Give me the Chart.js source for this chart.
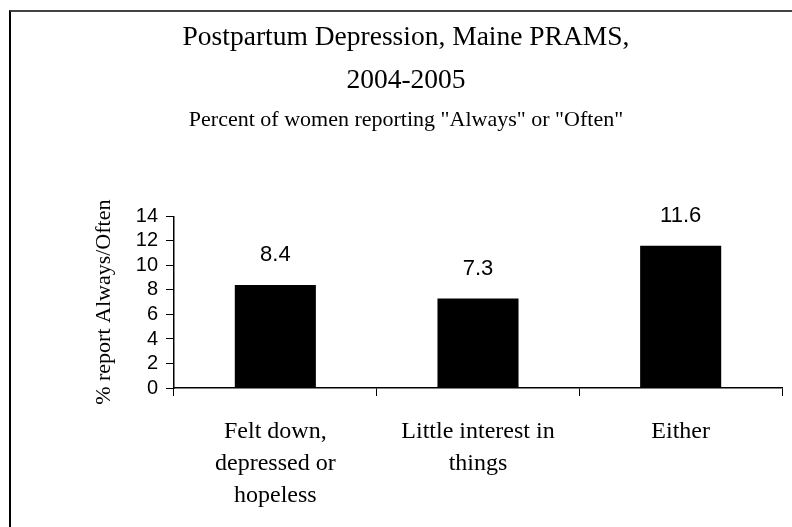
<!DOCTYPE html>
<html lang="en">
    <head>
        <meta charset="UTF-8" />
        <title>Postpartum Depression, Maine PRAMS</title>
        <script src="https://cdn.jsdelivr.net/npm/chart.js@4"></script>
    </head>
    <body>
        <style>
            * {
                padding: 0;
                margin: 0;
                box-sizing: border-box;
            }

            body {
                width: 792px;
                height: 527px;
                overflow: hidden;
                background-color: white;
                position: relative;
            }

            .frame {
                position: absolute;
                left: 9px;
                top: 10px;
                width: 900px;
                height: 600px;
                border-left: 2px solid #000;
                border-top: 2px solid #444;
            }

            .chart-container {
                position: absolute;
                left: 0;
                top: 0;
                width: 792px;
                height: 527px;
            }
        </style>

        <div class="frame"></div>
        <div class="chart-container">
            <canvas id="ppdChart"></canvas>
        </div>

        <script>
            const categories = [
                ["Felt down,", "depressed or", "hopeless"],
                ["Little interest in", "things"],
                ["Either"],
            ];
            const percentages = [8.4, 7.3, 11.6];
            const yTicks = [0, 2, 4, 6, 8, 10, 12, 14];

            const serif = "'Liberation Serif', 'Times New Roman', serif";
            const sans = "'Liberation Sans', Arial, sans-serif";

            // value labels above each bar
            const barValues = {
                id: "barValues",
                afterDatasetsDraw(chart) {
                    const ctx = chart.ctx;
                    const meta = chart.getDatasetMeta(0);
                    ctx.save();
                    ctx.font = "22px " + sans;
                    ctx.fillStyle = "#000";
                    ctx.textAlign = "center";
                    ctx.textBaseline = "middle";
                    meta.data.forEach((bar, i) => {
                        ctx.fillText(percentages[i].toFixed(1), bar.x, bar.y - 30);
                    });
                    ctx.restore();
                },
            };

            const ctx = document.getElementById("ppdChart").getContext("2d");
            new Chart(ctx, {
                type: "bar",
                data: {
                    labels: categories,
                    datasets: [
                        {
                            data: percentages,
                            backgroundColor: "#000",
                            barPercentage: 0.4,
                            categoryPercentage: 1,
                        },
                    ],
                },
                plugins: [barValues],
                options: {
                    responsive: true,
                    maintainAspectRatio: false,
                    animation: false,
                    layout: {
                        padding: { left: 30, right: 10, top: 0, bottom: 0 },
                    },
                    plugins: {
                        legend: { display: false },
                        tooltip: { enabled: false },
                        title: {
                            display: true,
                            text: ["Postpartum Depression, Maine PRAMS,", "2004-2005"],
                            color: "#000",
                            font: { size: 27.5, family: serif, weight: "normal", lineHeight: 1.55 },
                            padding: { top: 16.7, bottom: 0 },
                        },
                        subtitle: {
                            display: true,
                            text: 'Percent of women reporting "Always" or "Often"',
                            color: "#000",
                            font: { size: 22, family: serif, lineHeight: 1.2 },
                            padding: { top: 4.8, bottom: 83.3 },
                        },
                    },
                    scales: {
                        x: {
                            afterFit(scale) {
                                scale.height = 139;
                            },
                            grid: {
                                display: true,
                                offset: true,
                                drawOnChartArea: false,
                                drawTicks: true,
                                tickLength: 8,
                                color: "#000",
                                lineWidth: 1,
                            },
                            border: { display: true, color: "#000", width: 1.5 },
                            ticks: {
                                color: "#000",
                                font: { size: 24, family: serif, lineHeight: 1.33 },
                                padding: 20,
                                maxRotation: 0,
                                autoSkip: false,
                            },
                        },
                        y: {
                            min: 0,
                            max: 14,
                            afterFit(scale) {
                                scale.width = 144;
                            },
                            afterBuildTicks(scale) {
                                scale.ticks = yTicks.map((v) => ({ value: v }));
                            },
                            grid: {
                                display: true,
                                drawOnChartArea: false,
                                drawTicks: true,
                                tickLength: 8,
                                color: "#000",
                                lineWidth: 1,
                            },
                            border: { display: true, color: "#000", width: 1.5 },
                            ticks: {
                                color: "#000",
                                font: { size: 20, family: sans },
                                padding: 8,
                                autoSkip: false,
                            },
                            title: {
                                display: true,
                                text: "% report Always/Often",
                                color: "#000",
                                font: { size: 22, family: serif, lineHeight: 1.2 },
                                padding: { top: 61, bottom: 0 },
                            },
                        },
                    },
                },
            });
        </script>
    </body>
</html>
